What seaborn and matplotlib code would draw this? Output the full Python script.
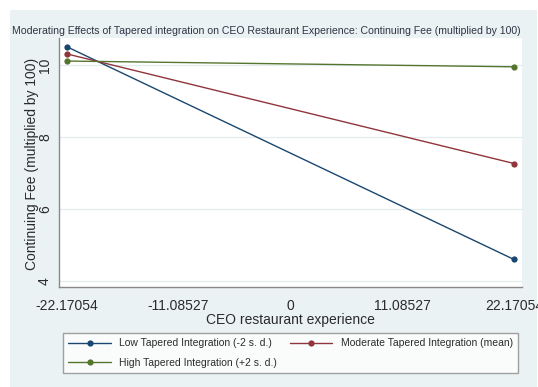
import matplotlib
matplotlib.use("Agg")
import matplotlib.pyplot as plt
from matplotlib.patches import Rectangle
from matplotlib.lines import Line2D
import numpy as np
import pandas as pd
import seaborn as sns

# Predicted continuing fee at the two ends of CEO restaurant experience
experience = [-22.17054, 22.17054]
low_ti = [10.51, 4.59]
moderate_ti = [10.31, 7.26]
high_ti = [10.11, 9.95]

series_names = [
    "Low Tapered Integration (-2 s. d.)",
    "Moderate Tapered Integration (mean)",
    "High Tapered Integration (+2 s. d.)",
]
series_colors = ["#1a476f", "#90353b", "#55752f"]

xtick_values = [-22.17054, -11.08527, 0, 11.08527, 22.17054]
xtick_labels = ["-22.17054", "-11.08527", "0", "11.08527", "22.17054"]
ytick_values = [4, 6, 8, 10]
ytick_labels = ["4", "6", "8", "10"]

df = pd.DataFrame({
    "experience": experience * 3,
    "fee": low_ti + moderate_ti + high_ti,
    "group": [series_names[0]] * 2 + [series_names[1]] * 2 + [series_names[2]] * 2,
})

sns.set_style("white")
plt.rcParams["font.family"] = ["Liberation Sans", "DejaVu Sans"]

W, H = 538, 387
fig = plt.figure(figsize=(W / 100, H / 100), dpi=100, facecolor="white")

# light blue-grey graph region behind everything
fig.patches.append(Rectangle((10 / W, 0), 527 / W, 377 / H, transform=fig.transFigure,
                             facecolor="#eaf2f3", edgecolor="none", zorder=-10))

ax = fig.add_axes([59 / W, 1 - 287 / H, 463 / W, 249 / H])
ax.set_facecolor("white")

sns.lineplot(data=df, x="experience", y="fee", hue="group", hue_order=series_names,
             palette=series_colors, marker="o", markersize=4.5, markeredgewidth=0,
             linewidth=1.0, ax=ax, legend=False)

ax.set_xlim(-22.934, 22.96)
ax.set_ylim(3.825, 10.751)

ax.set_xticks(xtick_values)
ax.set_xticklabels(xtick_labels)
ax.set_yticks(ytick_values)
ax.set_yticklabels(ytick_labels)

for sp in ["top", "right"]:
    ax.spines[sp].set_visible(False)
for sp in ["left", "bottom"]:
    ax.spines[sp].set_color("#8a8a8a")
    ax.spines[sp].set_linewidth(1.0)

ax.grid(axis="y", color="#e3ecee", linewidth=0.9)
ax.grid(axis="x", visible=False)
ax.set_axisbelow(True)

ax.tick_params(axis="both", direction="out", length=4, width=0.8, color="#8a8a8a",
               labelsize=10, labelcolor="#2b2b2b")
ax.tick_params(axis="x", pad=4.5)
ax.tick_params(axis="y", labelrotation=90, pad=1)
for lab in ax.get_yticklabels():
    lab.set_verticalalignment("center")

ax.set_xlabel("CEO restaurant experience", fontsize=10, color="#2b2b2b", labelpad=0)
ax.set_ylabel("")
fig.text(32 / W, 1 - 164 / H, "Continuing Fee (multiplied by 100)", rotation=90,
         ha="center", va="center", fontsize=10, color="#2b2b2b")

fig.text(266 / W, 1 - 31.5 / H,
         "Moderating Effects of Tapered integration on CEO Restaurant Experience: "
         "Continuing Fee (multiplied by 100)",
         ha="center", va="center", fontsize=7.6, color="#2f3545")

# legend: two columns, Low / High in the first, Moderate in the second
order = [0, 2, 1]
handles = [Line2D([0], [0], color=series_colors[i], marker="o", markersize=4.5,
                  markeredgewidth=0, linewidth=1.0) for i in order]
labels = [series_names[i] for i in order]
leg = fig.legend(handles, labels, ncol=2, loc="upper left",
                 bbox_to_anchor=(63 / W, 1 - 375 / H, 455 / W, 42 / H), mode="expand",
                 fontsize=7.5, frameon=True, fancybox=False, borderaxespad=0,
                 handlelength=4.1, handletextpad=0.8, columnspacing=1.0,
                 labelspacing=0.9, borderpad=0.5, labelcolor="#2b2b2b")
leg.get_frame().set_edgecolor("#8a8a8a")
leg.get_frame().set_linewidth(1.0)
leg.get_frame().set_facecolor("white")

fig.savefig("out.png", dpi=100, facecolor="white")
